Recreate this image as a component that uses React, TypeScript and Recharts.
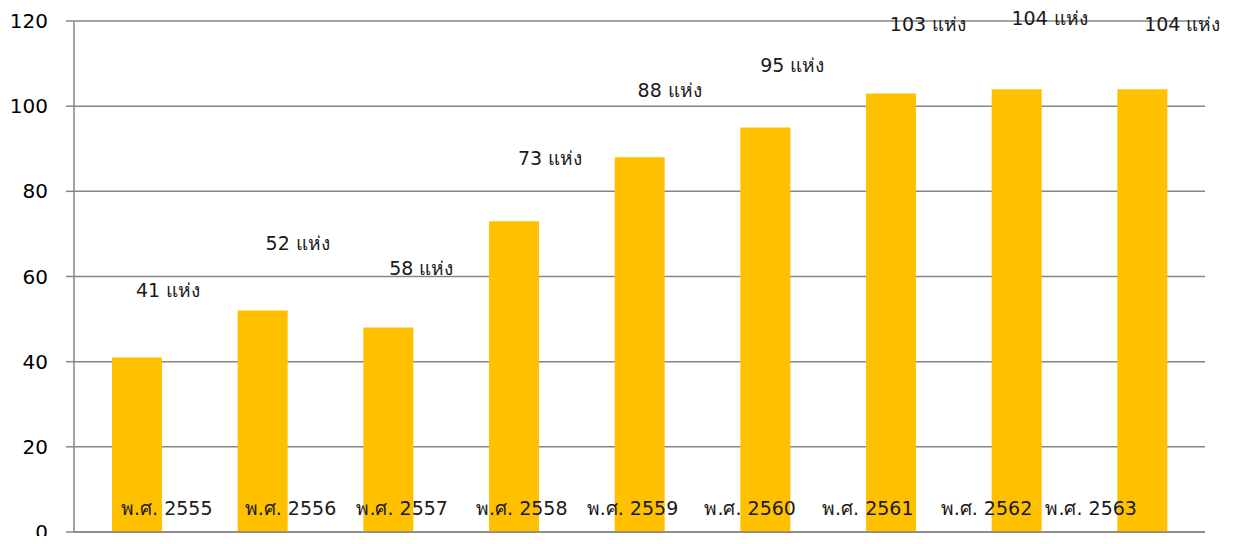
import React from "react";
import { BarChart, Bar, XAxis, YAxis, CartesianGrid, LabelList } from "recharts";

const categories = ["พ.ศ. 2555", "พ.ศ. 2556", "พ.ศ. 2557", "พ.ศ. 2558", "พ.ศ. 2559", "พ.ศ. 2560", "พ.ศ. 2561", "พ.ศ. 2562", "พ.ศ. 2563"];
const barValues = [41, 52, 48, 73, 88, 95, 103, 104, 104];
const labelValues = [41, 52, 58, 73, 88, 95, 103, 104, 104];
const labelUnit = "แห่ง";
const yTicks = [0, 20, 40, 60, 80, 100, 120];

// label placement tweaks (styling, not data)
const labelDx = [31, 35, 33, 36, 30, 27, 37, 33, 40];
const labelDy = [-60, -61, -53, -56, -60, -55, -62, -64, -58];
const catDx = [30, 28, 14, 8, -7, -15, -23, -30, -51];

const data = categories.map((c, i) => ({ name: c, value: barValues[i], label: `${labelValues[i]} ${labelUnit}` }));

const FONT = "'DejaVu Sans', 'Noto Sans', sans-serif";

const CatTick = (props: any) => {
  const { x, y, payload, index } = props;
  return (
    <text x={x + catDx[index]} y={y} dy={-25} textAnchor="middle" fontFamily={FONT} fontSize={19} fill="#1a1a1a">
      {payload.value}
    </text>
  );
};

const BarLabel = (props: any) => {
  const { x, y, width, index } = props;
  return (
    <text x={x + width / 2 + labelDx[index]} y={y + labelDy[index]} textAnchor="middle" fontFamily={FONT} fontSize={19} fill="#1a1a1a">
      {data[index].label}
    </text>
  );
};

export default function App() {
  return (
    <div style={{ height: 528 }}>
      <BarChart width={1219} height={536} data={data} margin={{ top: 13, right: 22, bottom: 8, left: 0 }}>
        <CartesianGrid vertical={false} stroke="#868686" strokeWidth={1.5} />
        <XAxis dataKey="name" height={4} axisLine={{ stroke: "#868686", strokeWidth: 1.5 }} tickLine={false} tick={<CatTick />} interval={0} />
        <YAxis
          width={66}
          domain={[0, 120]}
          ticks={yTicks}
          interval={0}
          axisLine={{ stroke: "#868686", strokeWidth: 1.5 }}
          tickLine={{ stroke: "#868686", strokeWidth: 1.5 }}
          tickSize={8}
          tickMargin={18}
          tick={{ fontFamily: FONT, fontSize: 20, fill: "#000" }}
        />
        <Bar dataKey="value" fill="#FFC000" barSize={50} isAnimationActive={false}>
          <LabelList dataKey="label" content={<BarLabel />} />
        </Bar>
      </BarChart>
    </div>
  );
}
